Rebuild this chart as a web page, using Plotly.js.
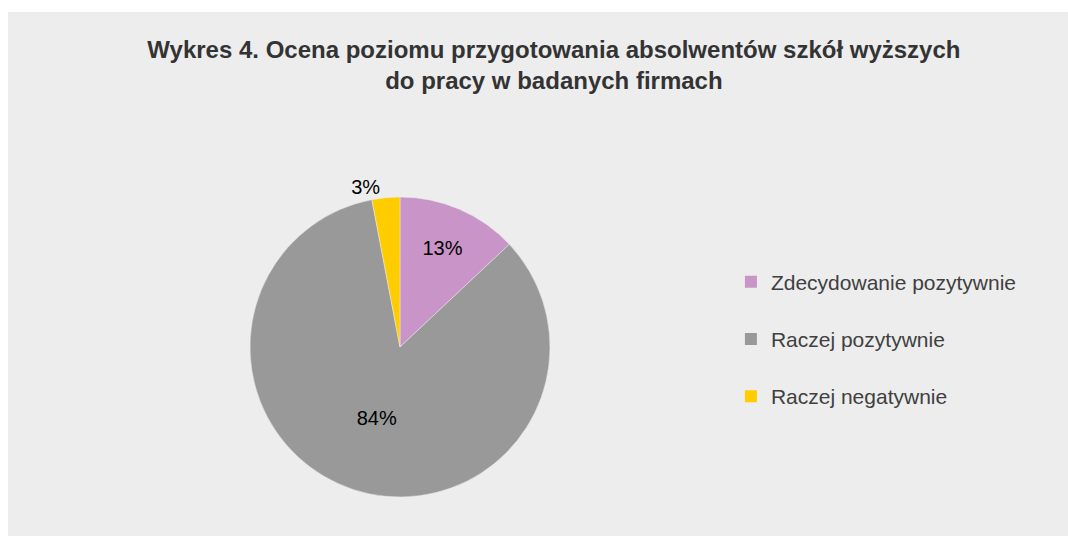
<!DOCTYPE html>
<html>
<head>
<meta charset="utf-8">
<script src="https://cdn.plot.ly/plotly-3.0.1.min.js"></script>
<style>
  html, body { margin: 0; padding: 0; background: #ffffff; width: 1068px; height: 536px; overflow: hidden; }
  #chart { position: absolute; left: 8px; top: 12px; width: 1060px; height: 524px; }
</style>
</head>
<body>
<div id="chart"></div>
<script>
const categories = ["Zdecydowanie pozytywnie", "Raczej pozytywnie", "Raczej negatywnie"];
const values = [13, 84, 3];
const colors = ["#C994C7", "#999999", "#FFCC00"];
const textPositions = ["inside", "inside", "outside"];

const FONT = '"Liberation Sans", Arial, sans-serif';

const pieTrace = {
  type: "pie",
  labels: categories,
  values: values,
  sort: false,
  direction: "clockwise",
  rotation: 0,
  marker: { colors: colors, line: { color: "#ededed", width: 0.5 } },
  texttemplate: "%{percent:.0%}",
  textposition: textPositions,
  insidetextorientation: "horizontal",
  textfont: { family: FONT, size: 20, color: "#000000" },
  outsidetextfont: { family: FONT, size: 20, color: "#000000" },
  domain: { x: [0.2283, 0.5113], y: [0.0744, 0.647] },
  showlegend: false,
  hoverinfo: "label+percent"
};

const legendTraces = categories.map((c, i) => ({
  type: "scatter",
  mode: "markers",
  x: [null],
  y: [null],
  name: c,
  legendgroup: "g" + i,
  marker: { symbol: "square", size: 9, color: colors[i] },
  hoverinfo: "skip",
  showlegend: true
}));

const layout = {
  width: 1060,
  height: 524,
  margin: { l: 0, r: 0, t: 0, b: 0 },
  paper_bgcolor: "#ededed",
  plot_bgcolor: "#ededed",
  font: { family: FONT, color: "#404040" },
  title: {
    text: "<b>Wykres 4. Ocena poziomu przygotowania absolwentów szkół wyższych<br>do pracy w badanych firmach</b>",
    font: { family: FONT, size: 24, color: "#333333" },
    x: 0.515,
    xanchor: "center",
    xref: "paper",
    y: 0.912,
    yref: "container",
    yanchor: "top",
    pad: { t: 0, b: 0, l: 0, r: 0 }
  },
  xaxis: { visible: false, range: [0, 1] },
  yaxis: { visible: false, range: [0, 1] },
  showlegend: true,
  legend: {
    x: 0.682,
    xanchor: "left",
    y: 0.376,
    yanchor: "middle",
    bgcolor: "rgba(0,0,0,0)",
    font: { family: FONT, size: 21, color: "#404040" },
    tracegroupgap: 27,
    itemsizing: "constant"
  }
};

Plotly.newPlot("chart", [pieTrace, ...legendTraces], layout, { displayModeBar: false, staticPlot: true });
</script>
</body>
</html>
